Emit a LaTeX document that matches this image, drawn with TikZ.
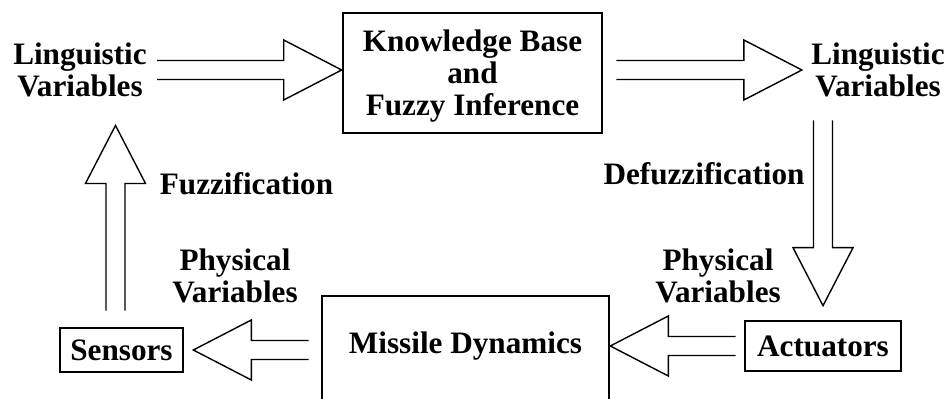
\documentclass[tikz,border=0pt]{standalone}
\usepackage{fontspec}
\setmainfont{Liberation Serif}
\usetikzlibrary{calc,positioning}

\begin{document}
\begin{tikzpicture}[x=0.5pt,y=-0.5pt,
  every node/.style={font=\bfseries\fontsize{15.6}{16}\selectfont},
  txt/.style={inner sep=0pt,align=center},
  blk/.style={draw,line width=1.3pt,inner sep=0pt,align=center},
  fat/.style={line width=0.7pt,line join=miter}]

% hollow block arrow, open at the tail
\newcommand\fatarrow[2]{%
  \coordinate (neck) at ($(#2)!29pt!(#1)$);
  \draw[fat] ($(#1)!4.75pt!90:(#2)$) -- ($(neck)!4.75pt!90:(#2)$)
    -- ($(neck)!15pt!90:(#2)$) -- (#2) -- ($(neck)!15pt!-90:(#2)$)
    -- ($(neck)!4.75pt!-90:(#2)$) -- ($(#1)!4.75pt!-90:(#2)$);
}

\useasboundingbox (0,0) rectangle (951,399);

\node[txt] (lvin) at (80,70) {Linguistic\\Variables};
\node[blk,minimum width=129.5pt,minimum height=60pt,text depth=-3.5pt] (kb) at (472.5,73)
  {Knowledge Base\\and\\Fuzzy Inference};
\node[txt] (lvout) at (878,70) {Linguistic\\Variables};
\node[txt,anchor=base] (fuzz) at (246.5,195) {Fuzzification};
\node[txt,anchor=base] (defuzz) at (704,185) {Defuzzification};
\node[txt] (phys1) at (235,276) {Physical\\Variables};
\node[txt] (phys2) at (718,276) {Physical\\Variables};
\node[blk,minimum width=61.5pt,minimum height=22pt] (sens) at (121.5,350) {Sensors};
\node[blk,minimum width=143.5pt,minimum height=54pt,text depth=7pt] (missile) at (465.5,350) {Missile Dynamics};
\node[blk,minimum width=78pt,minimum height=25pt] (act) at (823,346) {Actuators};

% top row
\coordinate (a1) at ($(lvin.east)+(10,0)$);
\coordinate (a2) at (kb.west |- a1);
\fatarrow{a1}{a2}
\coordinate (b1) at ($(kb.east |- lvout.west)+(13,0)$);
\coordinate (b2) at ($(lvout.west)+(-9,0)$);
\fatarrow{b1}{b2}
% right side, down
\coordinate (c1) at ($(act.north |- lvout.south)+(0,23)$);
\coordinate (c2) at ($(act.north)+(0,-14)$);
\fatarrow{c1}{c2}
% bottom row
\coordinate (d1) at ($(act.west)+(-8,0)$);
\coordinate (d2) at (missile.east |- d1);
\fatarrow{d1}{d2}
\coordinate (e1) at ($(missile.west)+(-12,0)$);
\coordinate (e2) at ($(sens.east)+(9,0)$);
\fatarrow{e1}{e2}
% left side, up
\coordinate (f1) at ($(sens.north)+(-6,-16)$);
\coordinate (f2) at ($(f1 |- lvin.south)+(0,28)$);
\fatarrow{f1}{f2}
\end{tikzpicture}
\end{document}
